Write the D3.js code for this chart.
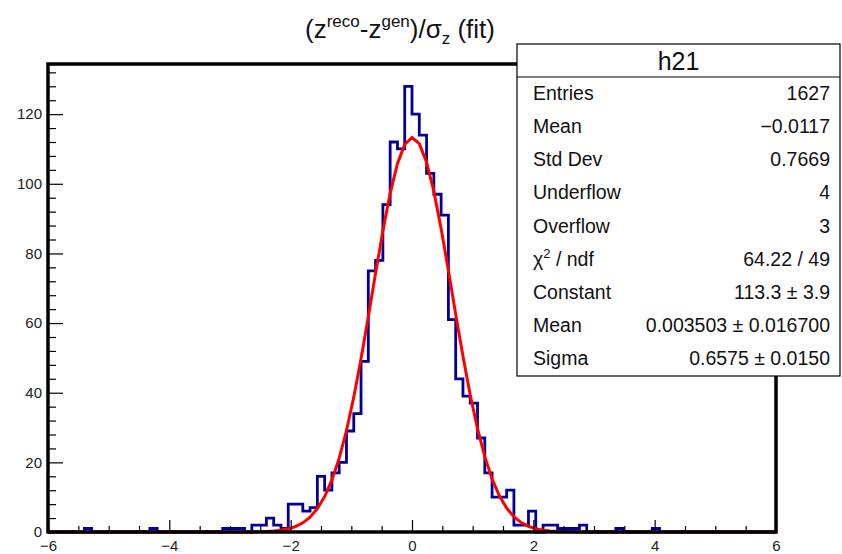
<!DOCTYPE html>
<html>
<head>
<meta charset="utf-8">
<script src="https://cdn.jsdelivr.net/npm/d3@7"></script>
<style>
  html, body { margin: 0; padding: 0; background: #fff; }
  svg { display: block; font-family: "Liberation Sans", Arial, Helvetica, sans-serif; }
</style>
</head>
<body>
<svg id="chart" width="842" height="554"></svg>
<script>
// Histogram h21: 100 bins over [-6, 6]
const xRange = [-6, 6];
const binCounts = [
  0, 0, 0, 0, 0, 1, 0, 0, 0, 0,
  0, 0, 0, 0, 1, 0, 0, 0, 0, 0,
  0, 0, 0, 0, 1, 1, 1, 0, 2, 2,
  4, 2, 1, 8, 8, 6, 7, 16, 12, 17,
  20, 29, 34, 49, 75, 78, 94, 112, 110, 128,
  120, 114, 103, 97, 91, 61, 44, 39, 37, 27,
  17, 10, 10, 12, 2, 2, 6, 0, 2, 2,
  1, 1, 1, 2, 0, 0, 0, 0, 1, 0,
  0, 0, 0, 1, 0, 0, 0, 0, 0, 0,
  0, 0, 0, 0, 0, 0, 0, 0, 0, 0
];
const yMax = 134.4;

// Gaussian fit parameters
const fitConstant = 113.3;
const fitMean = 0.003503;
const fitSigma = 0.6575;
const fitPoints = 100;

// Axis ticks
const xMajorTicks = [-6, -4, -2, 0, 2, 4, 6];
const yMajorTicks = [0, 20, 40, 60, 80, 100, 120];

// Statistics box rows
const statLabels = ["Entries", "Mean", "Std Dev", "Underflow", "Overflow", "χ2 / ndf", "Constant", "Mean", "Sigma"];
const statValues = ["1627", "\u22120.0117", "0.7669", "4", "3", "64.22 / 49", "113.3 \u00b1 3.9", "0.003503 \u00b1 0.016700", "0.6575 \u00b1 0.0150"];

const svg = d3.select("#chart");
const frame = { left: 48, right: 776, top: 64, bottom: 532 };

const x = d3.scaleLinear().domain(xRange).range([frame.left, frame.right]);
const y = d3.scaleLinear().domain([0, yMax]).range([frame.bottom, frame.top]);

const nBins = binCounts.length;
const binWidth = (xRange[1] - xRange[0]) / nBins;

// Step outline of the histogram
const stepPts = [[xRange[0], 0]];
binCounts.forEach((c, i) => {
  const lo = xRange[0] + i * binWidth;
  stepPts.push([lo, c], [lo + binWidth, c]);
});
stepPts.push([xRange[1], 0]);

const line = d3.line().x(d => x(d[0])).y(d => y(d[1]));

svg.append("path")
  .attr("d", line(stepPts))
  .attr("fill", "none")
  .attr("stroke", "#000099")
  .attr("stroke-width", 2.8)
  .attr("stroke-linejoin", "miter");

// Gaussian fit curve
const gauss = v => fitConstant * Math.exp(-0.5 * Math.pow((v - fitMean) / fitSigma, 2));
const fitPts = d3.range(fitPoints + 1).map(i => {
  const v = xRange[0] + i * (xRange[1] - xRange[0]) / fitPoints;
  return [v, gauss(v)];
});
svg.append("path")
  .attr("d", line(fitPts))
  .attr("fill", "none")
  .attr("stroke", "#ff0000")
  .attr("stroke-width", 3);

// Axes with inward ticks
const xMinor = d3.range(xRange[0], xRange[1] + 0.001, 0.5).filter(v => !xMajorTicks.includes(v));
const yMinor = d3.range(0, yMax, 4).filter(v => !yMajorTicks.includes(v));

const xAxisMinor = svg.append("g")
  .attr("transform", `translate(0,${frame.bottom})`)
  .call(d3.axisBottom(x).tickValues(xMinor).tickSize(-6).tickFormat(""));
const xAxis = svg.append("g")
  .attr("transform", `translate(0,${frame.bottom})`)
  .call(d3.axisBottom(x).tickValues(xMajorTicks).tickSize(-12).tickPadding(8));
const yAxisMinor = svg.append("g")
  .attr("transform", `translate(${frame.left},0)`)
  .call(d3.axisLeft(y).tickValues(yMinor).tickSize(-8).tickFormat(""));
const yAxis = svg.append("g")
  .attr("transform", `translate(${frame.left},0)`)
  .call(d3.axisLeft(y).tickValues(yMajorTicks).tickSize(-15).tickPadding(6));

[xAxisMinor, xAxis, yAxisMinor, yAxis].forEach(g => {
  g.select(".domain").remove();
  g.selectAll(".tick line").attr("stroke", "#000").attr("stroke-width", 1.2);
  g.selectAll(".tick text").attr("fill", "#222").style("font-size", "15px")
    .style("font-family", "\"Liberation Sans\", Arial, sans-serif");
});

// Frame
svg.append("rect")
  .attr("x", frame.left)
  .attr("y", frame.top)
  .attr("width", frame.right - frame.left)
  .attr("height", frame.bottom - frame.top)
  .attr("fill", "none")
  .attr("stroke", "#000")
  .attr("stroke-width", 3.5);

// Title
const title = svg.append("text")
  .attr("x", 400)
  .attr("y", 38)
  .attr("text-anchor", "middle")
  .attr("fill", "#111")
  .style("font-size", "26px");
title.append("tspan").text("(z");
title.append("tspan").attr("dy", -11).style("font-size", "17px").text("reco");
title.append("tspan").attr("dy", 11).text("-z");
title.append("tspan").attr("dy", -11).style("font-size", "17px").text("gen");
title.append("tspan").attr("dy", 11).text(")/σ");
title.append("tspan").attr("dy", 6).style("font-size", "17px").text("z");
title.append("tspan").attr("dy", -6).text(" (fit)");

// Statistics box
const box = { x: 517, y: 44, w: 323, h: 332, header: 33 };
const stats = svg.append("g");
stats.append("rect")
  .attr("x", box.x).attr("y", box.y)
  .attr("width", box.w).attr("height", box.h)
  .attr("fill", "#fff").attr("stroke", "#000").attr("stroke-width", 1.2);
stats.append("line")
  .attr("x1", box.x).attr("x2", box.x + box.w)
  .attr("y1", box.y + box.header).attr("y2", box.y + box.header)
  .attr("stroke", "#000").attr("stroke-width", 1.2);
stats.append("text")
  .attr("x", box.x + box.w / 2).attr("y", box.y + 26)
  .attr("text-anchor", "middle").attr("fill", "#111")
  .style("font-size", "25px").text("h21");

const rowH = (box.h - box.header) / statLabels.length;
statLabels.forEach((lab, i) => {
  const yy = box.y + box.header + rowH * (i + 0.5) + 6;
  const t = stats.append("text")
    .attr("x", box.x + 16).attr("y", yy)
    .attr("fill", "#111").style("font-size", "19.5px");
  if (lab.startsWith("χ2")) {
    t.append("tspan").text("χ");
    t.append("tspan").attr("dy", -8).style("font-size", "13px").text("2");
    t.append("tspan").attr("dy", 8).text(" / ndf");
  } else {
    t.text(lab);
  }
  stats.append("text")
    .attr("x", box.x + box.w - 10).attr("y", yy)
    .attr("text-anchor", "end").attr("fill", "#111")
    .style("font-size", "19.5px").text(statValues[i]);
});
</script>
</body>
</html>
